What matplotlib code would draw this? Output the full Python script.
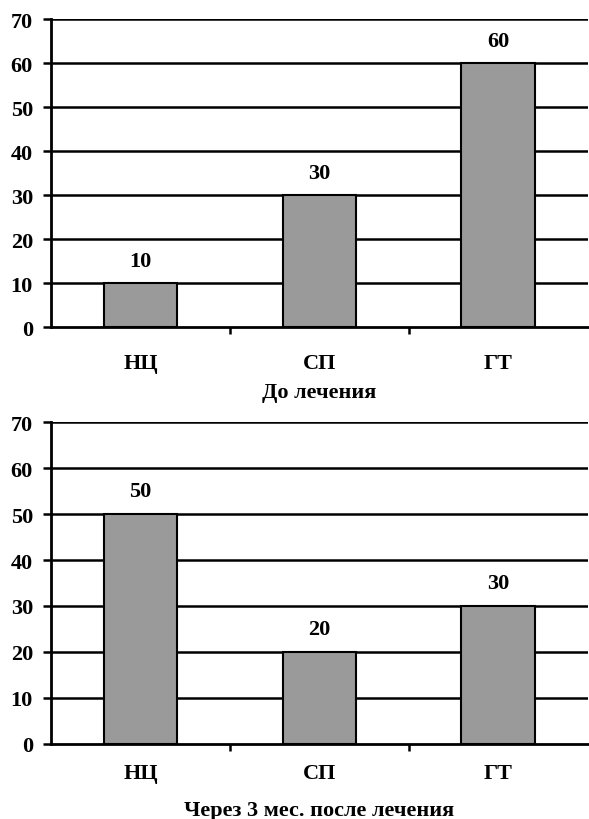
import numpy as np
import matplotlib.pyplot as plt

categories = ['НЦ', 'СП', 'ГТ']
before = [10, 30, 60]
after = [50, 20, 30]
titles = ['До лечения', 'Через 3 мес. после лечения']
yticks = [0, 10, 20, 30, 40, 50, 60, 70]

plt.rcParams['font.family'] = ['Liberation Serif', 'DejaVu Serif']
plt.rcParams['font.weight'] = 'bold'

fig = plt.figure(figsize=(5.89, 8.2), dpi=100)
ax1 = fig.add_axes([0.0866, 0.600, 0.911, 0.3756])
ax2 = fig.add_axes([0.0866, 0.0915, 0.911, 0.3926])

x = np.arange(len(categories))
fs = 16

for ax, vals, title, lpad, tpad in [(ax1, before, titles[0], 19, 6),
                                    (ax2, after, titles[1], 14, 12)]:
    ax.set_ylim(0, 70)
    ax.set_xlim(-0.5, 2.5)
    ax.set_yticks(yticks)
    for y in yticks[1:]:
        ax.axhline(y, color='black', lw=1.8, zorder=1)
    bars = ax.bar(x, vals, width=0.41, color='#9a9a9a', edgecolor='black',
                  linewidth=1.5, zorder=2)
    for b, v in zip(bars, vals):
        ax.text(b.get_x() + b.get_width() / 2, v + 2.8, str(v), ha='center',
                va='bottom', fontsize=fs, fontweight='bold', zorder=3,
                bbox=dict(facecolor='white', edgecolor='none', pad=1))
    ax.set_xticks(x)
    ax.set_xticklabels(categories, fontsize=fs, fontweight='bold')
    ax.tick_params(axis='x', which='major', length=0, pad=lpad)
    ax.set_xticks([0.5, 1.5], minor=True)
    ax.tick_params(axis='x', which='minor', length=5, width=1.8, direction='out')
    ax.tick_params(axis='y', length=6, width=1.8, direction='out', labelsize=fs, pad=7)
    for lab in ax.get_yticklabels():
        lab.set_fontweight('bold')
    ax.spines['top'].set_visible(False)
    ax.spines['right'].set_visible(False)
    ax.spines['left'].set_linewidth(2)
    ax.spines['bottom'].set_linewidth(2)
    ax.set_xlabel(title, fontsize=fs, fontweight='bold', labelpad=tpad)

plt.savefig('out.png', dpi=100)
